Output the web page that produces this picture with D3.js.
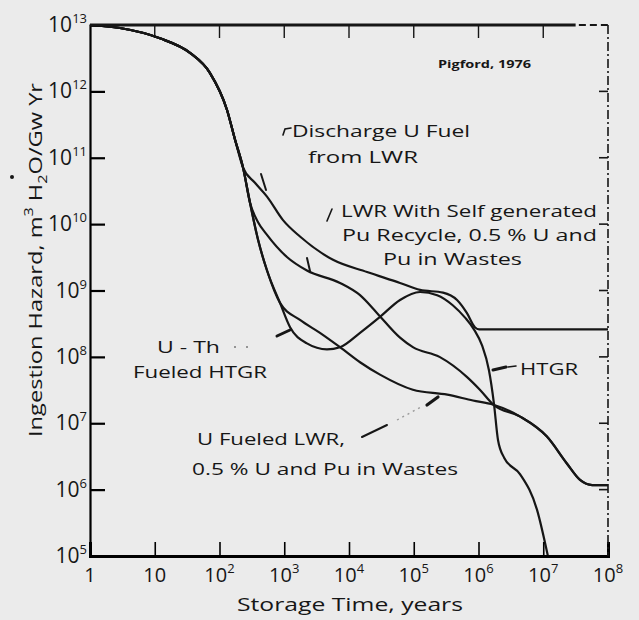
<!DOCTYPE html>
<html>
<head>
<meta charset="utf-8">
<script src="https://cdn.jsdelivr.net/npm/d3@7"></script>
<style>
  body { margin: 0; background: #ebebeb; }
  svg { display: block; font-family: "Open Sans", sans-serif; }
  .curve { fill: none; stroke: #161616; stroke-width: 2.2; stroke-linejoin: round; }
</style>
</head>
<body>
<svg id="chart" width="639" height="620"></svg>
<script>
// [storage time (years), ingestion hazard (m3 H2O / GW yr)]
const commonDecay = [[1, 1e13], [2.9, 9.0e12], [12, 6.3e12], [35, 3.8e12], [71, 1.9e12],
  [131, 5.2e11], [173, 1.9e11], [231, 7.1e10]];
const dischargeFuel = [[353, 4.2e10], [542, 2.6e10], [957, 1.15e10], [1750, 6.5e9], [5660, 2.9e9],
  [19000, 1.9e9], [61400, 1.3e9], [1.25e5, 1.02e9], [2.83e5, 9.3e8], [4.66e5, 7.2e8],
  [6.6e5, 4.6e8], [8.8e5, 2.8e8], [1.02e6, 2.6e8], [1e8, 2.6e8]];
const recycleBranch = [[296, 2.1e10]];
const puRecycle = [[394, 1.07e10], [542, 6.9e9], [1100, 3.2e9], [2240, 2.0e9], [7260, 1.3e9],
  [14800, 8.5e8], [27000, 4.6e8], [61400, 1.95e8], [97000, 1.4e8], [2.5e5, 1.0e8],
  [6.6e5, 5.0e7], [1.05e6, 3.2e7]];
const steepBranch = [[394, 5.8e9], [542, 2.0e9], [860, 6.5e8]];
const uThHtgr = [[1230, 2.8e8], [2240, 1.6e8], [4570, 1.3e8], [7260, 1.4e8], [14800, 2.3e8],
  [30100, 4.0e8], [61400, 7.2e8], [1.25e5, 9.5e8], [2.3e5, 8.5e8], [4.0e5, 6.0e8],
  [6.2e5, 3.9e8], [8.5e5, 2.6e8], [1.13e6, 1.5e8], [1.45e6, 6.3e7], [1.73e6, 2.0e7],
  [2.0e6, 5.6e6], [2.5e6, 3.0e6], [4.4e6, 1.7e6], [8.0e6, 5.0e5], [1.18e7, 1e5]];
const uFueledLwr = [[1750, 3.6e8], [3560, 2.3e8], [7260, 1.4e8], [14800, 8.3e7], [30100, 5.4e7],
  [97000, 3.2e7], [3.3e5, 2.7e7], [8.2e5, 2.2e7]];
const wasteTail = [[1.7e6, 1.9e7], [4.4e6, 1.26e7], [1.14e7, 6.3e6], [2.3e7, 2.5e6],
  [3.7e7, 1.4e6], [5.7e7, 1.17e6], [1e8, 1.17e6]];

const xExponents = [0, 1, 2, 3, 4, 5, 6, 7, 8];
const yExponents = [5, 6, 7, 8, 9, 10, 11, 12, 13];

const series = [
  commonDecay.concat(dischargeFuel),
  commonDecay.concat(recycleBranch, puRecycle, wasteTail),
  commonDecay.concat(recycleBranch, steepBranch, uThHtgr),
  commonDecay.concat(recycleBranch, steepBranch, uFueledLwr, wasteTail)
];

const svg = d3.select("#chart");
const margin = {top: 25, right: 31, bottom: 64, left: 90};
const width = 639 - margin.left - margin.right;
const height = 620 - margin.top - margin.bottom;
const ink = "#161616";

const x = d3.scaleLog().domain([1, 1e8]).range([0, width]);
const y = d3.scaleLog().domain([1e5, 1e13]).range([height, 0]);

const g = svg.append("g").attr("transform", `translate(${margin.left},${margin.top})`);

// curves
const line = d3.line().x(d => x(d[0])).y(d => y(d[1])).curve(d3.curveMonotoneX);
g.selectAll("path.curve")
  .data(series)
  .join("path")
  .attr("class", "curve")
  .attr("d", line);

// frame: left and bottom axes with inward ticks
const yTicks = yExponents.map(e => Math.pow(10, e));
const xTicks = xExponents.map(e => Math.pow(10, e));

g.append("g")
  .call(d3.axisLeft(y).tickValues(yTicks).tickSize(-15).tickFormat(""))
  .call(a => a.select(".domain").attr("stroke-width", 2.2))
  .call(a => a.selectAll(".tick line").attr("stroke-width", 2.2));

g.append("g")
  .attr("transform", `translate(0,${height})`)
  .call(d3.axisBottom(x).tickValues(xTicks).tickSize(-14).tickFormat(""))
  .call(a => a.select(".domain").attr("stroke-width", 3))
  .call(a => a.selectAll(".tick line").attr("stroke-width", 1.6));

// top edge: solid then dashed near the right end
g.append("line").attr("x1", 0).attr("x2", x(Math.pow(10, 7.5))).attr("y1", 0).attr("y2", 0)
  .attr("stroke", ink).attr("stroke-width", 3);
g.append("line").attr("x1", x(Math.pow(10, 7.55))).attr("x2", width).attr("y1", 0).attr("y2", 0)
  .attr("stroke", ink).attr("stroke-width", 2).attr("stroke-dasharray", "7,4");
g.selectAll("line.topTick")
  .data(xTicks.slice(1, -1))
  .join("line")
  .attr("class", "topTick")
  .attr("x1", d => x(d)).attr("x2", d => x(d))
  .attr("y1", 0).attr("y2", 13)
  .attr("stroke", ink).attr("stroke-width", 1.4);

// right edge: dashed with short ticks
g.append("line").attr("x1", width).attr("x2", width).attr("y1", 0).attr("y2", height)
  .attr("stroke", ink).attr("stroke-width", 1.6).attr("stroke-dasharray", "9,3,2,3");
g.selectAll("line.rightTick")
  .data(yTicks.slice(1, -1))
  .join("line")
  .attr("class", "rightTick")
  .attr("x1", width - 9).attr("x2", width)
  .attr("y1", d => y(d)).attr("y2", d => y(d))
  .attr("stroke", ink).attr("stroke-width", 1.6);

// tick labels
const xl = g.selectAll("text.xl")
  .data(xExponents)
  .join("text")
  .attr("class", "xl")
  .attr("x", d => x(Math.pow(10, d)))
  .attr("y", height + 26)
  .attr("text-anchor", "middle")
  .attr("font-size", 20)
  .attr("fill", ink);
xl.append("tspan").text(d => d === 0 ? "1" : "10");
xl.filter(d => d > 1).append("tspan").attr("dy", -9).attr("font-size", 13).text(d => d);

const yl = g.selectAll("text.yl")
  .data(yExponents)
  .join("text")
  .attr("class", "yl")
  .attr("x", -3)
  .attr("y", d => y(Math.pow(10, d)) + 7)
  .attr("text-anchor", "end")
  .attr("font-size", 21)
  .attr("fill", ink);
yl.append("tspan").text("10");
yl.append("tspan").attr("dy", -9).attr("font-size", 13).text(d => d);

// axis titles
svg.append("text")
  .attr("x", 237).attr("y", 611)
  .attr("font-size", 19).attr("fill", ink)
  .attr("textLength", 226).attr("lengthAdjust", "spacingAndGlyphs")
  .text("Storage Time, years");

const yt = svg.append("text")
  .attr("transform", "translate(42,437) rotate(-90)")
  .attr("font-size", 19).attr("fill", ink)
  .attr("textLength", 354).attr("lengthAdjust", "spacingAndGlyphs");
yt.append("tspan").text("Ingestion Hazard,  m");
yt.append("tspan").attr("dy", -9).attr("font-size", 13).text("3");
yt.append("tspan").attr("dy", 9).text(" H");
yt.append("tspan").attr("dy", 5).attr("font-size", 13).text("2");
yt.append("tspan").attr("dy", -5).text("O/Gw Yr");
svg.append("circle").attr("cx", 12).attr("cy", 177).attr("r", 2).attr("fill", ink);

// annotations
const notes = [
  ["Pigford, 1976", 438, 68, 93, 10, "bold"],
  ["Discharge U Fuel", 292, 137, 178, 17],
  ["from LWR", 308, 163, 110, 17],
  ["LWR  With Self generated", 341, 217, 256, 17],
  ["Pu Recycle, 0.5 % U and", 342, 241, 255, 17],
  ["Pu in Wastes", 383, 265, 139, 17],
  ["U - Th", 157, 353, 63, 17],
  ["Fueled HTGR", 133, 378, 134, 17],
  ["U Fueled LWR,", 197, 445, 148, 17],
  ["0.5 % U and Pu in Wastes", 192, 475, 266, 17],
  ["HTGR", 520, 375, 58, 17]
];
svg.selectAll("text.note")
  .data(notes)
  .join("text")
  .attr("class", "note")
  .attr("x", d => d[1]).attr("y", d => d[2])
  .attr("textLength", d => d[3]).attr("lengthAdjust", "spacingAndGlyphs")
  .attr("font-size", d => d[4])
  .attr("font-weight", d => d[5] || "normal")
  .attr("fill", ink)
  .text(d => d[0]);

// leader marks
const marks = [
  ["M283,135 L285,129 L291,128", 1.6],
  ["M261,174 L266,190", 2],
  ["M307,258 L310,271", 2],
  ["M327,221 L332,209", 1.6],
  ["M277,336 L290,330", 3],
  ["M362,437 L387,425", 2],
  ["M427,405 L438,397", 3.2],
  ["M493,370 L506,367", 3],
  ["M508,367 L516,366", 1.6]
];
svg.selectAll("path.mark")
  .data(marks)
  .join("path")
  .attr("class", "mark")
  .attr("d", d => d[0])
  .attr("fill", "none")
  .attr("stroke", ink)
  .attr("stroke-width", d => d[1])
  .attr("stroke-linecap", "round");
svg.append("path")
  .attr("d", "M397,420 L421,407")
  .attr("stroke", "#9a9a9a").attr("stroke-width", 1.4).attr("stroke-dasharray", "2,4");
svg.selectAll("circle.dot")
  .data([[235, 347], [247, 347]])
  .join("circle")
  .attr("class", "dot")
  .attr("cx", d => d[0]).attr("cy", d => d[1]).attr("r", 1)
  .attr("fill", "#777");
</script>
</body>
</html>
